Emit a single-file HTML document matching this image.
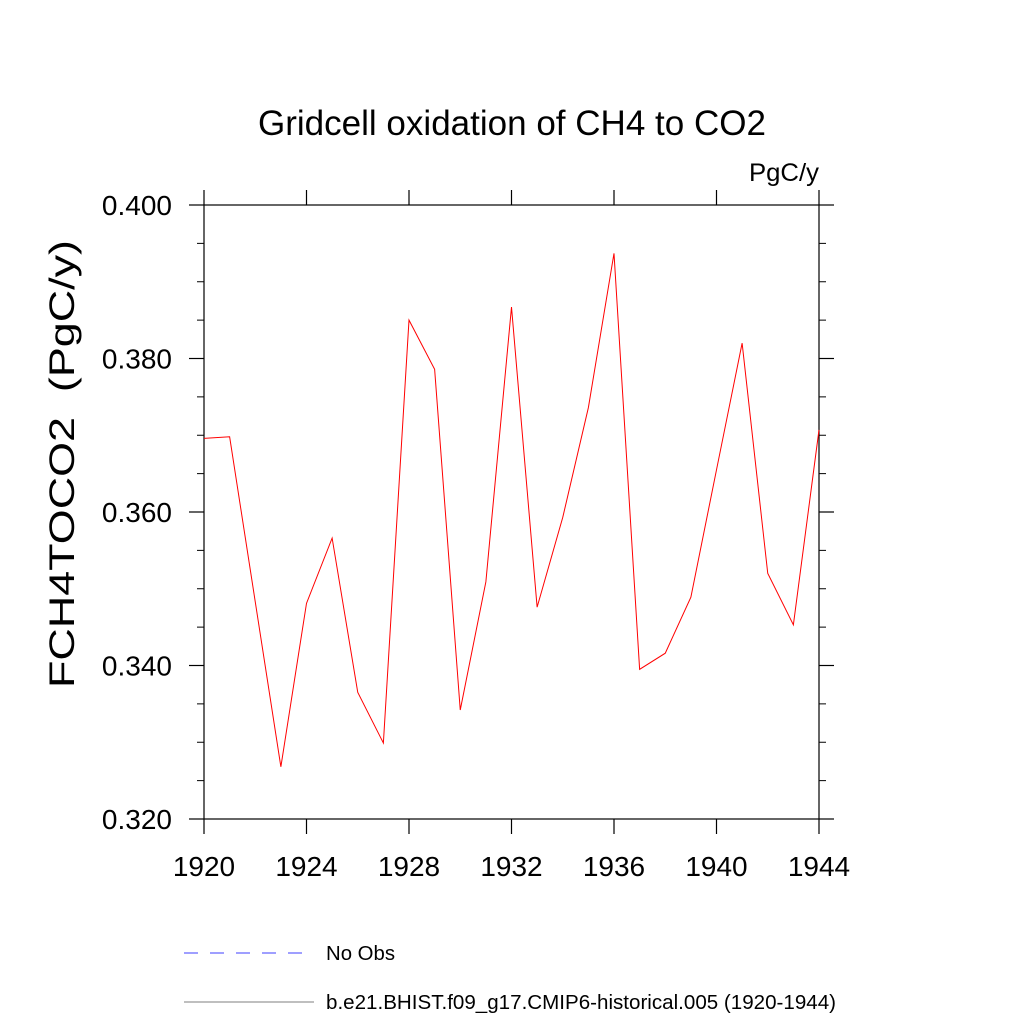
<!DOCTYPE html>
<html><head><meta charset="utf-8"><style>
body{margin:0;background:#fff;}
svg text{font-family:"Liberation Sans",sans-serif;fill:#000;}
</style></head><body>
<svg id="chart" width="1024" height="1024" xmlns="http://www.w3.org/2000/svg">
<text x="258" y="135" font-size="35" textLength="508" lengthAdjust="spacingAndGlyphs">Gridcell oxidation of CH4 to CO2</text>
<text x="749" y="181" font-size="25" textLength="70" lengthAdjust="spacingAndGlyphs">PgC/y</text>
<text transform="translate(74,688) rotate(-90)" font-size="35" textLength="448" lengthAdjust="spacingAndGlyphs" xml:space="preserve">FCH4TOCO2  (PgC/y)</text>
<g id="axes"></g>
<g id="series"></g>
<g>
<line x1="184" y1="953" x2="314" y2="953" stroke="#0000ff" stroke-width="0.8" stroke-dasharray="14,12"/>
<text x="326" y="960" font-size="20" textLength="69" lengthAdjust="spacingAndGlyphs">No Obs</text>
<line x1="184" y1="1002" x2="314" y2="1002" stroke="#000" stroke-width="0.6"/>
<text x="326" y="1009" font-size="20" textLength="510" lengthAdjust="spacingAndGlyphs">b.e21.BHIST.f09_g17.CMIP6-historical.005 (1920-1944)</text>
</g>
</svg>
<script>
const years=[1920,1921,1922,1923,1924,1925,1926,1927,1928,1929,1930,1931,1932,1933,1934,1935,1936,1937,1938,1939,1940,1941,1942,1943,1944];
const values=[0.3696,0.3698,0.3483,0.3268,0.3481,0.3566,0.3365,0.3299,0.3850,0.3786,0.3342,0.3509,0.3867,0.3476,0.3593,0.3736,0.3937,0.3395,0.3416,0.3489,0.3655,0.3820,0.3520,0.3453,0.3707];
const xTicks=[1920,1924,1928,1932,1936,1940,1944];
const yTicks=[0.320,0.340,0.360,0.380,0.400];
const yTickLabels=["0.320","0.340","0.360","0.380","0.400"];
const X0=204,X1=819,Y0=819,Y1=205,xmin=1920,xmax=1944,ymin=0.32,ymax=0.40;
const sx=v=>X0+(v-xmin)/(xmax-xmin)*(X1-X0);
const sy=v=>Y0-(v-ymin)/(ymax-ymin)*(Y0-Y1);
const NS="http://www.w3.org/2000/svg";
const ax=document.getElementById('axes');
function mk(tag,attrs,parent){const e=document.createElementNS(NS,tag);for(const k in attrs)e.setAttribute(k,attrs[k]);parent.appendChild(e);return e;}
const frame=mk('rect',{x:X0,y:Y1,width:X1-X0,height:Y0-Y1,fill:'none',stroke:'#000','stroke-width':1.2},ax);


xTicks.forEach(t=>{const x=sx(t);
const a=mk('line',{x1:x,y1:Y0,x2:x,y2:Y0+15,stroke:'#000','stroke-width':1.2},ax);


const b=mk('line',{x1:x,y1:Y1,x2:x,y2:Y1-15,stroke:'#000','stroke-width':1.2},ax);


const tx=mk('text',{x:x,y:876,'font-size':28,'text-anchor':'middle'},ax);tx.textContent=t;


});
yTicks.forEach((t,i)=>{const y=sy(t);
const a=mk('line',{x1:X0-15,y1:y,x2:X0,y2:y,stroke:'#000','stroke-width':1.2},ax);


const b=mk('line',{x1:X1,y1:y,x2:X1+15,y2:y,stroke:'#000','stroke-width':1.2},ax);


const tx=mk('text',{x:172,y:y+10,'font-size':28,'text-anchor':'end'},ax);tx.textContent=yTickLabels[i];


});
for(let k=1;k<16;k++){if(k%4===0)continue;const y=sy(ymin+k*0.005);
const a=mk('line',{x1:X0-7,y1:y,x2:X0,y2:y,stroke:'#000','stroke-width':1},ax);


const b=mk('line',{x1:X1,y1:y,x2:X1+7,y2:y,stroke:'#000','stroke-width':1},ax);


}
const pts=years.map((yr,i)=>sx(yr)+','+sy(values[i])).join(' ');
const pl=mk('polyline',{points:pts,fill:'none',stroke:'#ff0000','stroke-width':1},document.getElementById('series'));


</script>
</body></html>
